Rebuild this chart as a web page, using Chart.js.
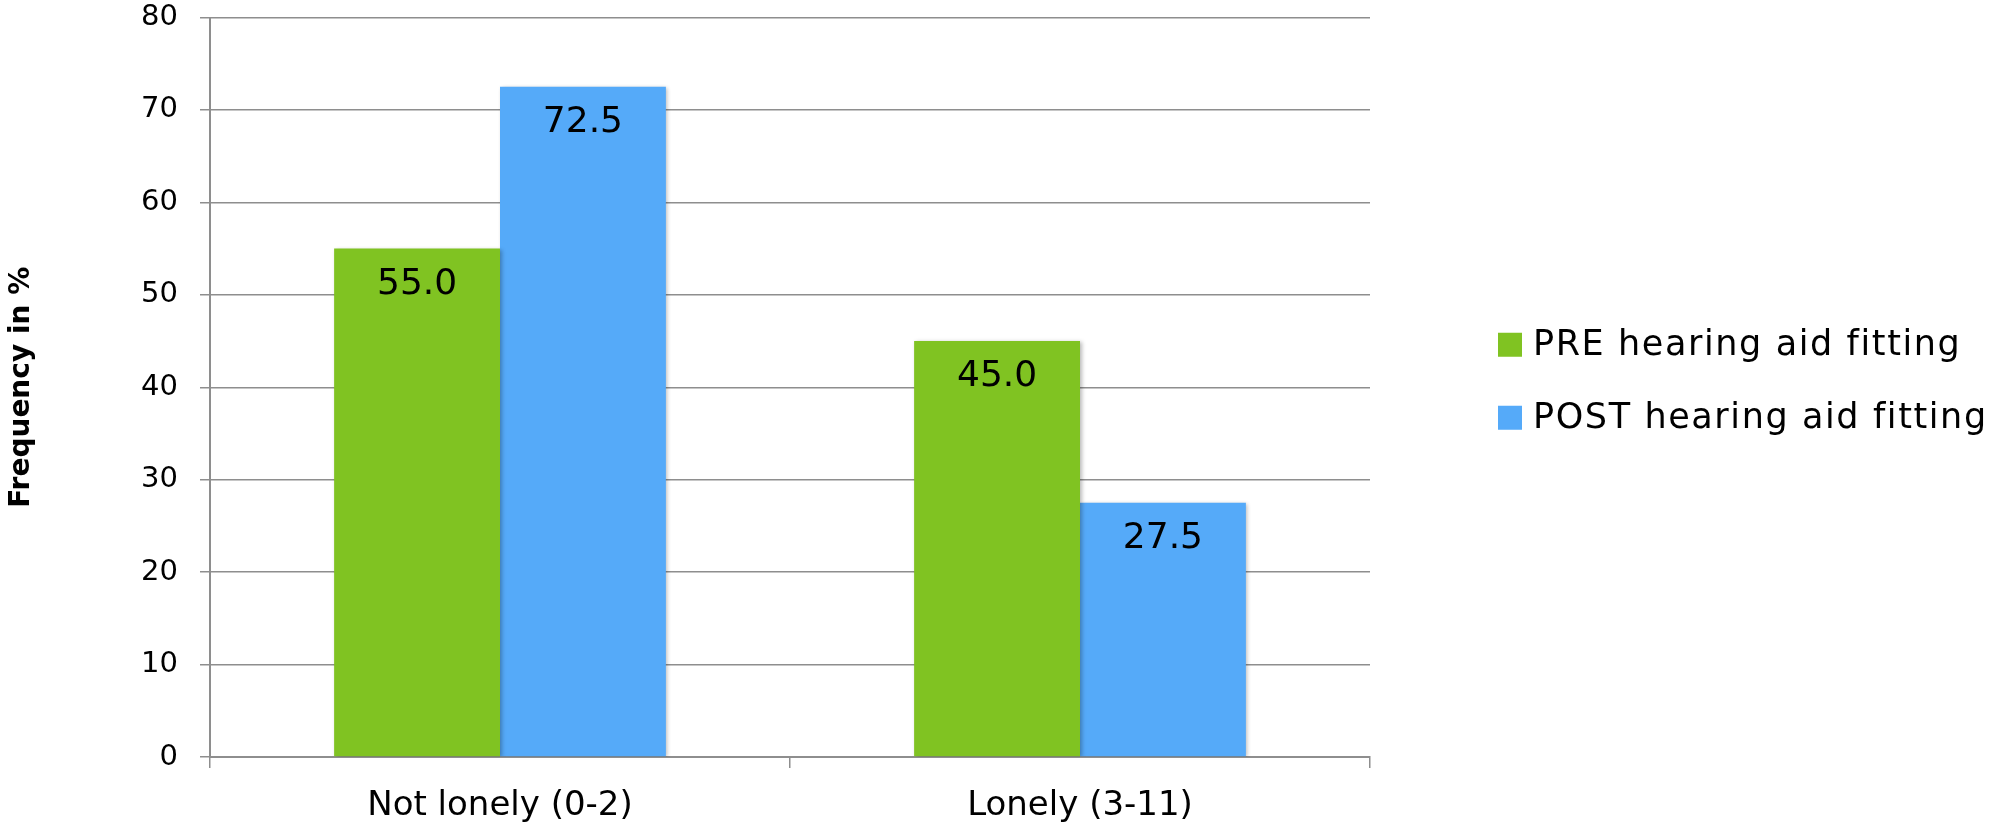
<!DOCTYPE html>
<html>
<head>
<meta charset="utf-8">
<title>Loneliness before and after hearing aid fitting</title>
<script src="https://cdn.jsdelivr.net/npm/chart.js@4/dist/chart.umd.min.js"></script>
<style>
  html, body { margin: 0; padding: 0; background: #ffffff; }
  #wrap { width: 1997px; height: 828px; }
</style>
</head>
<body>
<div id="wrap"><canvas id="chart" width="1997" height="828"></canvas></div>
<script>
// Categories, series and axis settings
const categories = ['Not lonely (0-2)', 'Lonely (3-11)'];
const seriesNames = ['PRE hearing aid fitting', 'POST hearing aid fitting'];
const preValues = [55.0, 45.0];
const postValues = [72.5, 27.5];
const seriesColors = ['#80C322', '#55AAF9'];
const yMin = 0;
const yMax = 80;
const yStep = 10;
const yTitle = 'Frequency in %';

const FONT = "'DejaVu Sans', sans-serif";
const GRID = '#8e8e8e';

// Soft bar shadow, value labels inside bar tops, and the side legend
const barExtras = {
  id: 'barExtras',
  beforeDatasetsDraw(chart) {
    const ctx = chart.ctx;
    ctx.save();
    ctx.shadowColor = 'rgba(0,0,0,0.28)';
    ctx.shadowBlur = 4;
    ctx.shadowOffsetX = 1.5;
    ctx.shadowOffsetY = 1;
  },
  afterDatasetsDraw(chart) {
    const ctx = chart.ctx;
    ctx.restore();
    ctx.save();
    ctx.fillStyle = '#000000';
    ctx.font = '36px ' + FONT;
    ctx.textAlign = 'center';
    ctx.textBaseline = 'middle';
    chart.data.datasets.forEach((ds, i) => {
      const meta = chart.getDatasetMeta(i);
      meta.data.forEach((bar, j) => {
        ctx.fillText(ds.data[j].toFixed(1), bar.x, bar.y + 36);
      });
    });
    ctx.restore();
  },
  afterDraw(chart) {
    const ctx = chart.ctx;
    const area = chart.chartArea;
    const boxSize = 24;
    const rowGap = 73;
    const x0 = area.right + 128;
    const mid = (area.top + area.bottom) / 2 - 6;
    const n = chart.data.datasets.length;
    ctx.save();
    ctx.font = '35px ' + FONT;
    if ('letterSpacing' in ctx) ctx.letterSpacing = '1.6px';
    ctx.textAlign = 'left';
    ctx.textBaseline = 'middle';
    chart.data.datasets.forEach((ds, i) => {
      const cy = mid + (i - (n - 1) / 2) * rowGap;
      ctx.fillStyle = ds.backgroundColor;
      ctx.fillRect(x0, cy - boxSize / 2, boxSize, boxSize);
      ctx.fillStyle = '#000000';
      ctx.fillText(ds.label, x0 + boxSize + 11, cy + 1);
    });
    ctx.restore();
  }
};

new Chart(document.getElementById('chart'), {
  type: 'bar',
  data: {
    labels: categories,
    datasets: [
      { label: seriesNames[0], data: preValues, backgroundColor: seriesColors[0] },
      { label: seriesNames[1], data: postValues, backgroundColor: seriesColors[1] }
    ]
  },
  options: {
    responsive: false,
    animation: false,
    devicePixelRatio: 1,
    layout: { padding: { left: 0, right: 627, top: 17.5, bottom: 0 } },
    datasets: {
      bar: { categoryPercentage: 0.572, barPercentage: 1.0, borderWidth: 0 }
    },
    plugins: {
      legend: { display: false },
      tooltip: { enabled: false }
    },
    scales: {
      x: {
        z: 1,
        offset: true,
        grid: {
          offset: true,
          drawOnChartArea: false,
          drawTicks: true,
          tickLength: 11,
          color: GRID,
          lineWidth: 1.5
        },
        border: { display: true, color: GRID, width: 2 },
        ticks: {
          color: '#000000',
          font: { family: FONT, size: 34 },
          padding: 18,
          maxRotation: 0
        },
        afterFit(scale) {
          scale.height = 71;
          scale.paddingLeft = 0;
          scale.paddingRight = 0;
        }
      },
      y: {
        min: yMin,
        max: yMax,
        grid: {
          color: GRID,
          lineWidth: 1.5,
          drawTicks: true,
          tickLength: 10
        },
        border: { display: true, color: GRID, width: 2 },
        ticks: {
          stepSize: yStep,
          color: '#000000',
          font: { family: FONT, size: 29 },
          padding: 22
        },
        title: {
          display: true,
          text: yTitle,
          color: '#000000',
          font: { family: FONT, size: 28, weight: 'bold' },
          padding: { top: 5, bottom: 0 }
        },
        afterFit(scale) {
          scale.width = 210;
          scale.paddingTop = 0;
          scale.paddingBottom = 0;
        }
      }
    }
  },
  plugins: [barExtras]
});
</script>
</body>
</html>
